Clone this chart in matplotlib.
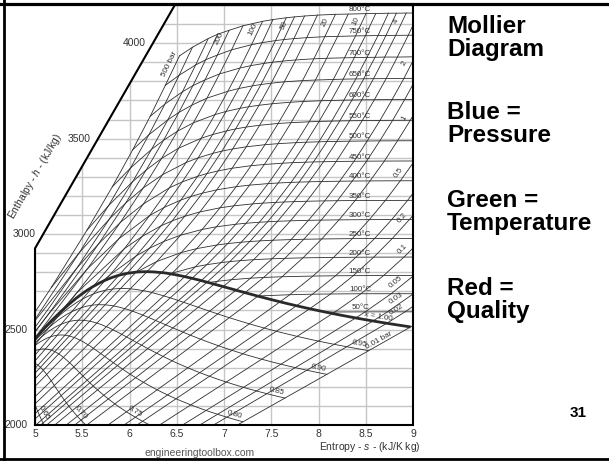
import numpy as np
import matplotlib
matplotlib.use("Agg")
import matplotlib.pyplot as plt
from matplotlib.patches import Polygon
from matplotlib.lines import Line2D

plt.rcParams['font.family'] = ['Liberation Sans', 'DejaVu Sans']
plt.rcParams['mathtext.fontset'] = 'custom'
plt.rcParams['mathtext.rm'] = 'Liberation Sans'
plt.rcParams['mathtext.it'] = 'Liberation Sans:italic'

# ---------------- saturation table (pressure based) ----------------
sat_p = [0.01, 0.015, 0.02, 0.025, 0.03, 0.04, 0.05, 0.075, 0.1, 0.15, 0.2, 0.25, 0.3, 0.4, 0.5,
         0.75, 1.0, 1.25, 1.5, 1.75, 2.0, 2.5, 3.0, 3.5, 4.0, 4.5, 5.0, 6.0, 7.0, 8.0, 10, 12, 14,
         15, 16, 18, 20, 25, 30, 35, 40, 50, 60, 70, 80, 90, 100, 110, 120, 130, 140, 150, 160,
         170, 180, 200, 210, 220.64]
sat_hf = [29.30, 54.68, 73.43, 88.42, 100.98, 121.39, 137.75, 168.75, 191.81, 225.94, 251.42,
          271.96, 289.27, 317.62, 340.54, 384.44, 417.51, 444.36, 467.13, 487.01, 504.70, 535.35,
          561.43, 584.26, 604.66, 623.14, 640.09, 670.38, 697.00, 720.87, 762.51, 798.33, 829.96,
          844.55, 858.44, 884.46, 908.47, 961.87, 1008.3, 1049.7, 1087.4, 1154.5, 1213.9, 1267.5,
          1317.1, 1363.7, 1408.1, 1450.9, 1491.5, 1531.4, 1571.0, 1610.3, 1650.4, 1691.7, 1734.8,
          1826.6, 1888.0, 2084.3]
sat_hfg = [2484.4, 2470.1, 2459.5, 2451.0, 2443.9, 2432.3, 2423.0, 2405.3, 2392.1, 2372.3, 2357.5,
           2345.5, 2335.3, 2318.4, 2304.7, 2278.0, 2257.5, 2240.6, 2226.0, 2213.1, 2201.6, 2181.2,
           2163.5, 2147.7, 2133.4, 2120.3, 2108.0, 2085.8, 2065.8, 2047.5, 2014.6, 1985.4, 1958.9,
           1946.4, 1934.5, 1911.8, 1889.8, 1840.1, 1794.9, 1752.8, 1713.5, 1639.7, 1570.9, 1505.2,
           1441.6, 1379.3, 1317.6, 1256.0, 1194.1, 1131.3, 1067.0, 1000.5, 930.7, 856.3, 775.9,
           583.9, 446.4, 0.0]
sat_sf = [0.1059, 0.1956, 0.2606, 0.3118, 0.3543, 0.4224, 0.4762, 0.5763, 0.6492, 0.7549, 0.8320,
          0.8932, 0.9441, 1.0261, 1.0912, 1.2132, 1.3028, 1.3741, 1.4337, 1.4850, 1.5302, 1.6072,
          1.6717, 1.7274, 1.7765, 1.8205, 1.8604, 1.9308, 1.9918, 2.0457, 2.1381, 2.2159, 2.2835,
          2.3143, 2.3435, 2.3975, 2.4468, 2.5543, 2.6454, 2.7253, 2.7966, 2.9207, 3.0275, 3.1220,
          3.2077, 3.2866, 3.3603, 3.4299, 3.4970, 3.5622, 3.6241, 3.6848, 3.7468, 3.8093, 3.8722,
          4.0146, 4.1071, 4.4070]
sat_sfg = [8.8690, 8.6314, 8.4621, 8.3302, 8.2222, 8.0510, 7.9176, 7.6738, 7.4996, 7.2522, 7.0752,
           6.9370, 6.8234, 6.6430, 6.5019, 6.2426, 6.0562, 5.9100, 5.7894, 5.6865, 5.5968, 5.4453,
           5.3200, 5.2124, 5.1191, 5.0356, 4.9603, 4.8285, 4.7153, 4.6160, 4.4470, 4.3058, 4.1839,
           4.1287, 4.0771, 3.9818, 3.8923, 3.7016, 3.5402, 3.3991, 3.2731, 3.0530, 2.8627, 2.6927,
           2.5365, 2.3925, 2.2556, 2.1245, 1.9968, 1.8700, 1.7486, 1.6260, 1.4996, 1.3679, 1.2332,
           0.9135, 0.6964, 0.0]

# saturated vapour points of the isotherms (temperature based)
sat_T = [50, 100, 150, 200, 250, 300, 350]
sat_T_hg = [2591.3, 2675.6, 2745.9, 2792.0, 2800.9, 2749.6, 2563.6]
sat_T_sg = [8.0748, 7.3542, 6.8371, 6.4302, 6.0725, 5.7059, 5.2177]

# ---------------- superheated steam: (T degC, h kJ/kg, s kJ/kgK) ----------------
sh_500 = [(400, 1874.6, 4.0031), (425, 2060.0, 4.2734), (450, 2284.0, 4.5884), (500, 2720.1, 5.1726),
          (550, 3019.5, 5.5485), (600, 3247.6, 5.8178), (650, 3441.8, 6.0342), (700, 3616.8, 6.2189),
          (750, 3779.0, 6.3790), (800, 3933.6, 6.5290)]
sh_400 = [(400, 1930.9, 4.1135), (425, 2198.1, 4.5029), (450, 2512.8, 4.9459), (500, 2903.3, 5.4700),
          (550, 3149.1, 5.7785), (600, 3346.4, 6.0114), (650, 3520.6, 6.2054), (700, 3681.2, 6.3750),
          (750, 3832.0, 6.5250), (800, 3978.7, 6.6662)]
sh_300 = [(400, 2151.1, 4.4728), (425, 2614.2, 5.1503), (450, 2821.4, 5.4423), (500, 3081.1, 5.7904),
          (550, 3275.4, 6.0342), (600, 3443.9, 6.2330), (650, 3598.4, 6.4057), (700, 3745.6, 6.5606),
          (750, 3886.0, 6.7000), (800, 4024.3, 6.8332)]
sh_250 = [(375, 1847.9, 4.0319), (400, 2580.2, 5.1418), (425, 2806.3, 5.4722), (450, 2949.7, 5.6743),
          (500, 3162.4, 5.9592), (550, 3335.6, 6.1764), (600, 3491.4, 6.3602), (650, 3637.5, 6.5229),
          (700, 3777.6, 6.6707), (750, 3913.0, 6.8060), (800, 4047.1, 6.9345)]
sh_200 = [(400, 2816.9, 5.5525), (450, 3061.7, 5.9043), (500, 3241.2, 6.1446), (550, 3396.2, 6.3390),
          (600, 3539.0, 6.5075), (650, 3675.3, 6.6593), (700, 3807.8, 6.7990), (750, 3938.0, 6.9300),
          (800, 4067.5, 7.0544)]
sh_150 = [(350, 2692.9, 5.4435), (400, 2975.7, 5.8876), (450, 3157.9, 6.1474), (500, 3310.8, 6.3487),
          (550, 3450.4, 6.5213), (600, 3583.1, 6.6764), (650, 3712.1, 6.8195), (700, 3839.1, 6.9536),
          (750, 3965.0, 7.0800), (800, 4091.1, 7.2013)]
sh_100 = [(325, 2810.3, 5.7596), (350, 2924.0, 5.9460), (400, 3097.5, 6.2141), (450, 3242.4, 6.4219),
          (500, 3375.1, 6.5995), (550, 3502.0, 6.7585), (600, 3625.8, 6.9045), (650, 3748.1, 7.0408),
          (700, 3870.0, 7.1693), (750, 3992.0, 7.2910), (800, 4114.5, 7.4085)]
sh_80 = [(300, 2786.5, 5.7942), (350, 2988.1, 6.1349), (400, 3139.4, 6.3658), (450, 3273.3, 6.5579),
         (500, 3399.5, 6.7266), (550, 3521.5, 6.8800), (600, 3642.4, 7.0221), (650, 3762.5, 7.1560),
         (700, 3882.2, 7.2822), (750, 4003.0, 7.4040), (800, 4123.8, 7.5185)]
sh_60 = [(300, 2885.6, 6.0703), (350, 3043.9, 6.3357), (400, 3178.3, 6.5432), (450, 3302.9, 6.7219),
         (500, 3423.1, 6.8826), (550, 3541.0, 7.0300), (600, 3658.8, 7.1692), (650, 3776.5, 7.3000),
         (700, 3894.3, 7.4248), (750, 4013.5, 7.5450), (800, 4133.1, 7.6586)]
sh_50 = [(300, 2925.7, 6.2111), (350, 3069.3, 6.4516), (400, 3196.7, 6.6483), (450, 3317.2, 6.8210),
         (500, 3434.7, 6.9781), (550, 3551.0, 7.1230), (600, 3666.9, 7.2605), (650, 3783.5, 7.3910),
         (700, 3900.3, 7.5136), (750, 4019.0, 7.6330), (800, 4137.7, 7.7458)]
sh_40 = [(275, 2887.3, 6.2312), (300, 2961.7, 6.3639), (350, 3093.3, 6.5843), (400, 3214.5, 6.7714),
         (450, 3331.2, 6.9386), (500, 3446.0, 7.0922), (550, 3560.7, 7.2350), (600, 3674.9, 7.3706),
         (650, 3790.5, 7.5000), (700, 3906.3, 7.6214), (750, 4024.0, 7.7400), (800, 4142.3, 7.8523)]
sh_30 = [(250, 2856.5, 6.2893), (300, 2994.3, 6.5412), (350, 3116.1, 6.7450), (400, 3231.7, 6.9235),
         (450, 3344.9, 7.0856), (500, 3457.2, 7.2359), (550, 3570.0, 7.3770), (600, 3682.8, 7.5103),
         (650, 3797.5, 7.6380), (700, 3912.2, 7.7590), (750, 4029.0, 7.8760), (800, 4146.9, 7.9885)]
sh_20 = [(250, 2903.3, 6.5475), (300, 3024.2, 6.7684), (350, 3137.7, 6.9583), (400, 3248.4, 7.1292),
         (450, 3358.2, 7.2866), (500, 3468.3, 7.4337), (550, 3579.5, 7.5730), (600, 3690.7, 7.7043),
         (650, 3804.0, 7.8310), (700, 3918.2, 7.9509), (750, 4034.0, 8.0670), (800, 4151.2, 8.1791)]
sh_15 = [(200, 2796.0, 6.4537), (250, 2923.9, 6.7111), (300, 3038.2, 6.9198), (350, 3148.0, 7.1036),
         (400, 3256.5, 7.2709), (450, 3364.7, 7.4270), (500, 3473.7, 7.5718), (550, 3583.6, 7.7100),
         (600, 3694.7, 7.8404), (650, 3807.0, 7.9670), (700, 3920.9, 8.0860), (750, 4035.6, 8.2030),
         (800, 4152.4, 8.3140)]
sh_10 = [(200, 2828.3, 6.6956), (250, 2943.1, 6.9265), (300, 3051.6, 7.1246), (350, 3158.2, 7.3029),
         (400, 3264.5, 7.4670), (450, 3371.3, 7.6200), (500, 3479.1, 7.7642), (550, 3588.2, 7.9010),
         (600, 3698.6, 8.0311), (650, 3810.0, 8.1570), (700, 3923.5, 8.2755), (750, 4038.0, 8.3920),
         (800, 4154.8, 8.5024)]
sh_8 = [(200, 2839.8, 6.8177), (250, 2950.4, 7.0402), (300, 3056.9, 7.2345), (350, 3162.2, 7.4107),
        (400, 3267.7, 7.5735), (450, 3374.2, 7.7270), (500, 3481.3, 7.8692), (550, 3590.0, 8.0060),
        (600, 3700.1, 8.1354), (650, 3811.5, 8.2610), (700, 3924.4, 8.3794), (750, 4039.0, 8.4960),
        (800, 4155.5, 8.6061)]
sh_6 = [(200, 2850.6, 6.9683), (250, 2957.6, 7.1833), (300, 3062.0, 7.3740), (350, 3166.1, 7.5481),
        (400, 3270.8, 7.7097), (450, 3376.7, 7.8620), (500, 3483.4, 8.0041), (550, 3591.8, 8.1400),
        (600, 3701.7, 8.2695), (650, 3812.8, 8.3950), (700, 3925.6, 8.5132), (750, 4040.0, 8.6300),
        (800, 4156.9, 8.7395)]
sh_5 = [(200, 2855.8, 7.0610), (250, 2961.0, 7.2725), (300, 3064.6, 7.4614), (350, 3168.1, 7.6346),
        (400, 3272.4, 7.7956), (450, 3378.0, 7.9470), (500, 3484.5, 8.0893), (550, 3592.8, 8.2250),
        (600, 3702.5, 8.3544), (650, 3813.5, 8.4790), (700, 3926.0, 8.5978), (750, 4040.5, 8.7140),
        (800, 4157.0, 8.8240)]
sh_4 = [(150, 2752.8, 6.9306), (200, 2860.9, 7.1723), (250, 2964.5, 7.3804), (300, 3067.1, 7.5677),
        (350, 3170.0, 7.7398), (400, 3273.9, 7.9003), (450, 3379.0, 8.0535), (500, 3485.5, 8.1933),
        (550, 3593.6, 8.3293), (600, 3703.3, 8.4580), (650, 3814.0, 8.5824), (700, 3927.4, 8.7011),
        (750, 4041.0, 8.8170), (800, 4157.8, 8.9280)]
sh_3 = [(150, 2761.2, 7.0792), (200, 2865.9, 7.3132), (250, 2967.9, 7.5180), (300, 3069.6, 7.7037),
        (350, 3172.0, 7.8754), (400, 3275.5, 8.0347), (450, 3380.3, 8.1874), (500, 3486.6, 8.3271),
        (550, 3594.6, 8.4629), (600, 3704.0, 8.5915), (650, 3814.5, 8.7160), (700, 3927.2, 8.8345),
        (750, 4041.5, 8.9500), (800, 4158.2, 9.0608)]
sh_2 = [(150, 2769.1, 7.2810), (200, 2870.7, 7.5081), (250, 2971.2, 7.7100), (300, 3072.1, 7.8941),
        (350, 3174.0, 8.0658), (400, 3277.0, 8.2236), (450, 3381.5, 8.3760), (500, 3487.7, 8.5153),
        (550, 3595.5, 8.6510), (600, 3704.8, 8.7793), (650, 3815.5, 8.9037), (700, 3928.8, 9.0221),
        (750, 4043.0, 9.1360)]
sh_1_5 = [(150, 2772.9, 7.4195), (200, 2873.1, 7.6440), (250, 2972.9, 7.8447), (300, 3073.3, 8.0282),
          (350, 3174.9, 8.1995), (400, 3277.8, 8.3571), (450, 3382.0, 8.5092), (500, 3488.2, 8.6485),
          (550, 3595.9, 8.7844), (600, 3705.2, 8.9125), (650, 3816.0, 9.0350)]
sh_1 = [(100, 2675.8, 7.3611), (150, 2776.6, 7.6148), (200, 2875.5, 7.8356), (250, 2974.5, 8.0346),
        (300, 3074.5, 8.2172), (350, 3175.8, 8.3880), (400, 3278.6, 8.5452), (450, 3382.5, 8.6970),
        (500, 3488.7, 8.8362), (550, 3596.3, 8.9716), (600, 3705.6, 9.1003)]
sh_0_5 = [(100, 2682.4, 7.6953), (150, 2780.2, 7.9413), (200, 2877.8, 8.1592), (250, 2976.2, 8.3568),
          (300, 3075.8, 8.5386), (350, 3176.3, 8.7075), (400, 3279.3, 8.8659), (450, 3383.0, 9.0160),
          (500, 3489.2, 9.1566), (550, 3597.0, 9.2900)]
sh_0_3 = [(100, 2685.2, 7.9360), (150, 2781.6, 8.1800), (200, 2878.7, 8.3960), (250, 2976.9, 8.5935),
          (300, 3076.2, 8.7750), (350, 3176.6, 8.9430), (400, 3279.5, 9.1016)]
sh_0_2 = [(100, 2686.2, 8.1276), (150, 2782.3, 8.3685), (200, 2879.2, 8.5847), (250, 2977.2, 8.7813),
          (300, 3076.5, 8.9627), (350, 3177.2, 9.1320)]
sh_0_1 = [(50, 2592.0, 8.1741), (100, 2687.5, 8.4489), (150, 2783.0, 8.6893), (200, 2879.6, 8.9049),
          (250, 2977.5, 9.1015), (300, 3076.7, 9.2827)]
sh_0_05 = [(50, 2592.6, 8.4940), (100, 2687.6, 8.7688), (150, 2783.1, 9.0092), (200, 2879.7, 9.2248)]
sh_0_03 = [(50, 2592.7, 8.7298), (100, 2687.7, 9.0046)]
sh_0_02 = [(50, 2592.8, 8.9169), (100, 2687.7, 9.1918)]
sh_0_01 = [(50, 2592.9, 9.2369)]

superheat = {500: sh_500, 400: sh_400, 300: sh_300, 250: sh_250, 200: sh_200, 150: sh_150,
             100: sh_100, 80: sh_80, 60: sh_60, 50: sh_50, 40: sh_40, 30: sh_30, 20: sh_20,
             15: sh_15, 10: sh_10, 8: sh_8, 6: sh_6, 5: sh_5, 4: sh_4, 3: sh_3, 2: sh_2,
             1.5: sh_1_5, 1: sh_1, 0.5: sh_0_5, 0.3: sh_0_3, 0.2: sh_0_2, 0.1: sh_0_1,
             0.05: sh_0_05, 0.03: sh_0_03, 0.02: sh_0_02, 0.01: sh_0_01}

isotherm_T = [50, 100, 150, 200, 250, 300, 350, 400, 450, 500, 550, 600, 650, 700, 750, 800]
quality_x = [0.65, 0.70, 0.75, 0.80, 0.85, 0.90, 0.95]
quality_labels = ['0.65', '0.70', '0.75', '0.80', '0.85', '0.90', '0.95']

x_ticks = [5, 5.5, 6, 6.5, 7, 7.5, 8, 8.5, 9]
x_tick_labels = ['5', '5.5', '6', '6.5', '7', '7.5', '8', '8.5', '9']
y_ticks = [2000, 2500, 3000, 3500, 4000]
y_tick_labels = ['2000', '2500', '3000', '3500', '4000']

top_labels = {500: '500 bar', 200: '200', 100: '100', 50: '50', 20: '20', 10: '10', 4: '4'}
edge_labels = {2: '2', 1: '1', 0.5: '0.5', 0.2: '0.2', 0.1: '0.1', 0.05: '0.05', 0.03: '0.03',
               0.02: '0.02'}
# entropy at which each right-edge pressure label sits
edge_label_s = {2: 8.97, 1: 8.96, 0.5: 8.90, 0.2: 8.94, 0.1: 8.94, 0.05: 8.86, 0.03: 8.86,
                0.02: 8.86}

# chart outline (s, h): the chart is cut off diagonally at the upper left
frame_s = [5, 9, 9, 6.48, 5, 5]
frame_h = [2000, 2000, 4200, 4200, 2925, 2000]

# ---------------- figure ----------------
W, H = 609, 461
fig = plt.figure(figsize=(W / 100, H / 100), dpi=100)
ax = fig.add_axes([35 / W, 36 / H, 378 / W, 420 / H])
ax.set_xlim(5, 9)
ax.set_ylim(2000, 4200)
for sp in ax.spines.values():
    sp.set_visible(False)

ax.set_yticks(np.arange(2000, 4201, 100))
ax.set_xticks(x_ticks)
ax.grid(True, color='#c6c6c6', lw=1.0)
ax.set_axisbelow(True)
ax.tick_params(length=0, labelsize=7.5, labelcolor='#333333', pad=3)
ax.set_xticklabels(x_tick_labels)
ax.set_yticklabels([])

# blank out the grid outside the diagonal cut
ax.add_patch(Polygon([(frame_s[3], frame_h[3]), (frame_s[4], frame_h[4]), (5, 4200)],
                     closed=True, facecolor='white', edgecolor='none', zorder=1))

LC = '#2e2e2e'
LW = 0.6

sp_ = np.array(sat_p); hf = np.array(sat_hf); hfg = np.array(sat_hfg)
sf = np.array(sat_sf); sfg = np.array(sat_sfg)
hg = hf + hfg
sg = sf + sfg


def isobar(P):
    s_l, h_l = [], []
    if P < 220.64:
        i = int(np.argmin(np.abs(sp_ - P)))
        s_l += [sf[i], sg[i]]
        h_l += [hf[i], hg[i]]
    for T, h, s in superheat[P]:
        s_l.append(s)
        h_l.append(h)
    return np.array(s_l), np.array(h_l)


def isotherm(T):
    pts = []
    if T in sat_T:
        k = sat_T.index(T)
        pts.append((sat_T_sg[k], sat_T_hg[k]))
    for P in sorted(superheat, reverse=True):
        for TT, h, s in superheat[P]:
            if TT == T:
                pts.append((s, h))
    pts.sort()
    a = np.array(pts)
    return a[:, 0], a[:, 1]


iso_p = {}
for P in superheat:
    s_a, h_a = isobar(P)
    iso_p[P] = (s_a, h_a)
    ax.plot(s_a, h_a, color=LC, lw=LW, zorder=2)

iso_t = {}
for T in isotherm_T:
    s_a, h_a = isotherm(T)
    iso_t[T] = (s_a, h_a)
    ax.plot(s_a, h_a, color=LC, lw=LW, zorder=2)

qual = {}
for q in quality_x:
    s_q = sf + q * sfg
    h_q = hf + q * hfg
    qual[q] = (s_q, h_q)
    ax.plot(s_q, h_q, color=LC, lw=LW, zorder=2)

ax.plot(sg, hg, color='#2a2a2a', lw=2.0, zorder=3, solid_capstyle='butt')

ax.plot(frame_s, frame_h, color='black', lw=1.5, clip_on=False, zorder=6,
        solid_joinstyle='miter')


# ---------------- labels ----------------
def disp_angle(s1, h1, s2, h2):
    (x1, y1), (x2, y2) = ax.transData.transform([(s1, h1), (s2, h2)])
    a = np.degrees(np.arctan2(y2 - y1, x2 - x1))
    if a > 90:
        a -= 180
    if a < -90:
        a += 180
    return a


def put_label(text, s, h, ang, off=4.0, size=5.8):
    t = np.radians(ang)
    dx, dy = -np.sin(t) * off, np.cos(t) * off
    ax.annotate(text, xy=(s, h), xytext=(dx, dy), textcoords='offset points',
                rotation=ang, rotation_mode='anchor', ha='center', va='center',
                fontsize=size, color='#333333', annotation_clip=False, zorder=7)


for P, txt in top_labels.items():
    s_a, h_a = iso_p[P]
    h_end = h_a[-1]
    h_t = h_end - 55
    s_t = np.interp(h_t, h_a, s_a)
    ang = disp_angle(np.interp(h_t - 70, h_a, s_a), h_t - 70, s_a[-1], h_end)
    put_label(txt, s_t, h_t, ang, off=4.0)

for P, txt in edge_labels.items():
    s_a, h_a = iso_p[P]
    s_t = edge_label_s[P]
    h_t = np.interp(s_t, s_a, h_a)
    ang = disp_angle(s_t - 0.05, np.interp(s_t - 0.05, s_a, h_a),
                     s_t + 0.05, np.interp(s_t + 0.05, s_a, h_a))
    put_label(txt, s_t, h_t, ang, off=4.5)

s_a, h_a = iso_p[0.01]
s_t = 8.66
put_label('0.01 bar', s_t, np.interp(s_t, s_a, h_a),
          disp_angle(s_t - 0.1, np.interp(s_t - 0.1, s_a, h_a), s_t, np.interp(s_t, s_a, h_a)),
          off=2.5)

order = np.argsort(sg)
s_t = 8.63
h_t = np.interp(s_t, sg[order], hg[order])
put_label('x = 1.00', s_t, h_t,
          disp_angle(s_t - 0.1, np.interp(s_t - 0.1, sg[order], hg[order]),
                     s_t + 0.1, np.interp(s_t + 0.1, sg[order], hg[order])), off=3.5)

for T in isotherm_T:
    s_a, h_a = iso_t[T]
    s_t = 8.44
    h_t = np.interp(s_t, s_a, h_a)
    ax.annotate(f'{T}°C', xy=(s_t, h_t), xytext=(0, 0.5), textcoords='offset points',
                ha='center', va='bottom', fontsize=5.8, color='#333333', zorder=7)

branch = sp_ <= 10
for q, txt in zip(quality_x, quality_labels):
    s_q, h_q = qual[q]
    sb = s_q[branch][::-1]   # increasing s
    hb = h_q[branch][::-1]   # decreasing h
    s_end, h_end = s_q[0], h_q[0]
    if h_end >= 2000:
        s_t = s_end - 0.10
        h_t = np.interp(s_t, sb, hb)
    else:
        h_t = 2048.0
        s_t = np.interp(h_t, hb[::-1], sb[::-1])
    ang = disp_angle(s_t - 0.04, np.interp(s_t - 0.04, sb, hb),
                     s_t + 0.04, np.interp(s_t + 0.04, sb, hb))
    put_label(txt, s_t, h_t, ang, off=3.5)

for h, txt in zip(y_ticks, y_tick_labels):
    if h > frame_h[4]:
        s_edge = np.interp(h, [frame_h[4], frame_h[3]], [frame_s[4], frame_s[3]])
    else:
        s_edge = frame_s[0]
    ax.annotate(txt, xy=(s_edge, h), xytext=(-5.5, 0), textcoords='offset points',
                ha='right', va='center', fontsize=7.5, color='#333333', annotation_clip=False)

diag_ang = disp_angle(frame_s[4], frame_h[4], frame_s[3], frame_h[3])
ax.text(5.0, 3300, 'Enthalpy - $h$ - (kJ/kg)', rotation=diag_ang, rotation_mode='anchor',
        ha='center', va='center', fontsize=7.5, color='#333333', clip_on=False)

fig.text(421 / W, 1 - 447 / H, 'Entropy - $s$ - (kJ/K kg)', ha='right', va='center',
         fontsize=7.5, color='#333333')
fig.text(200 / W, 1 - 453 / H, 'engineeringtoolbox.com', ha='center', va='center',
         fontsize=7.5, color='#555555')

# ---------------- slide text ----------------
side = [('Mollier', 33), ('Diagram', 56), ('Blue =', 119), ('Pressure', 142),
        ('Green =', 207), ('Temperature', 230), ('Red =', 295), ('Quality', 318)]
for txt, yb in side:
    fig.text(447 / W, 1 - yb / H, txt, ha='left', va='baseline', fontsize=17.5,
             fontweight='bold', color='black')
fig.text(578 / W, 1 - 417 / H, '31', ha='center', va='baseline', fontsize=11,
         fontweight='bold', color='black')

fig.add_artist(Line2D([0, 1], [1 - 4.5 / H, 1 - 4.5 / H], transform=fig.transFigure,
                      color='black', lw=2.3))
fig.add_artist(Line2D([4 / W, 4 / W], [0, 1], transform=fig.transFigure, color='black', lw=2.0))
fig.add_artist(Line2D([0, 1], [1 - 459 / H, 1 - 459 / H], transform=fig.transFigure,
                      color='black', lw=2.0))

fig.savefig('out.png', dpi=100)
